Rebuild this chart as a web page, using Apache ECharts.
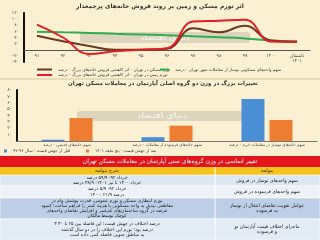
<!DOCTYPE html>
<html><head><meta charset="utf-8">
<script src="https://cdn.jsdelivr.net/npm/echarts@6/dist/echarts.min.js"></script>
<style>html,body{margin:0;padding:0;background:#fcf0d2}#c{width:320px;height:240px}</style>
</head><body><div id="c"></div>
<script>
// ---- data ----
const lineTitle = 'اثر تورم مسکن و زمین بر روند فروش خانه‌های پرجمعدار';
const lineCategories = ['۹۱','۹۲','۹۳','۹۴','۹۵','۹۶','۹۷','۹۸','۹۹','۱۴۰۰','تابستان\n۱۴۰۱'];
const nameNewShare = 'سهم واحدهای مسکونی نوساز از معاملات شهر تهران - درصد';
const nameHousing = 'تورم مسکن در تهران - اثر کاهشی فروش خانه‌های بزرگ - درصد';
const nameLand = 'تورم زمین در تهران - اثر کاهشی فروش خانه‌های بزرگ - درصد';
const newShare = [59,57,55,52,50,47,44,41,37,30,27];
const housingInflation = [46,28,12,0,0,3,70,57,78,30,26];
const landInflation = [82,40,-14,-5,0,5,92,95,98,27,26];

const barTitle = 'تغییرات بزرگ در وزن دو گروه اصلی آپارتمان در معاملات مسکن تهران';
const barCategories = ['سهم خانه‌های قدیمی - درصد','سهم خانه‌های فرسوده از معاملات - درصد','سهم خانه‌های نوساز در معاملات خرید - درصد'];
const nameBefore = 'قبل از جهش قیمت - سال ۹۶-۹۷';
const nameAfter = 'بعد از جهش قیمت - پنج ماهه ۱۴۰۱';
const beforeJump = [2,6,66];
const afterJump = [36,24,33];

const tableTitle = 'تغییر اساسی در وزن گروه‌های سنی آپارتمان در معاملات مسکن تهران';
const tableHeads = ['شرح مولفه','مولفه'];
const tableLeft = [
  ['خرداد ۹۲: ۵۹/۹ درصد','خرداد ۱۴۰۰ تا تیر ۱۴۰۱: ۳۸/۹ درصد'],
  ['خرداد ۹۲: ۵/۹ درصد','۱۴۰۰: ۲۱/۹ درصد'],
  ['تورم انتظاری مسکن و تورم عمومی، قدرت پوشش وام در','مقاطعی تبدیل به واحد مسکونی با هزینه کمتر را فراهم ساخت؛ کمبود','عرضه در گروه ساختمان‌های کم‌عمر و افزایش تقاضای واحدهای','کوچک توسط مالکان'],
  ['۴ درصد اختلاف در جهش قیمت؛ این فاصله بین ۲۵ تا ۳۰','درصد بود؛ تورم این اختلاف را در دو سال گذشته','به مناطق جنوبی فاصله کمی داده است']
];
const tableRight = [
  ['سهم واحدهای نوساز در فروش'],
  ['سهم واحدهای فرسوده در فروش'],
  ['عوامل تقویت تقاضای انتقال از نوساز','به فرسوده'],
  ['ماجرای اختلاف قیمت آپارتمان نو','و فرسوده']
];

// ---- helpers ----
const fa = s => String(s).replace(/\d/g, d => '۰۱۲۳۴۵۶۷۸۹'[d]);
const faNum = v => v < 0 ? '-' + fa(-v) : fa(v);
const FONT = 'DejaVu Sans';

// ---- table graphics ----
const rowY = [175, 186, 198, 219, 240];
const rowFill = ['#dde7f2', '#edf2f8', '#bccfe6', '#e3ebf5'];
const g = [];
g.push({type:'rect', shape:{x:80,y:32,width:170,height:11,r:3}, style:{fill:'rgba(140,140,140,0.28)'}, z:0});
g.push({type:'text', x:165, y:37.5, style:{text:'دنیای اقتصاد', font:'bold 8px '+FONT, fill:'rgba(255,255,255,0.6)', align:'center', verticalAlign:'middle'}, z:0});
g.push({type:'rect', shape:{x:77,y:111,width:170,height:10,r:3}, style:{fill:'rgba(140,140,140,0.28)'}, z:0});
g.push({type:'text', x:162, y:116, style:{text:'دنیای اقتصاد', font:'bold 8px '+FONT, fill:'rgba(255,255,255,0.6)', align:'center', verticalAlign:'middle'}, z:0});
g.push({type:'line', shape:{x1:0,y1:79,x2:320,y2:79}, style:{stroke:'#d8c89e', lineWidth:1}});
g.push({type:'text', x:160, y:6, style:{text:lineTitle, font:'bold 6px '+FONT, fill:'#333', align:'center', verticalAlign:'middle'}});
g.push({type:'text', x:163, y:84, style:{text:barTitle, font:'bold 5.5px '+FONT, fill:'#333', align:'center', verticalAlign:'middle'}});
g.push({type:'rect', shape:{x:0,y:156,width:320,height:11}, style:{fill:'#e3151c'}});
g.push({type:'text', x:170, y:161.5, style:{text:tableTitle, font:'6px '+FONT, fill:'#fff', align:'center', verticalAlign:'middle'}});
g.push({type:'rect', shape:{x:0,y:167,width:320,height:8}, style:{fill:'#f6c21c'}});
g.push({type:'text', x:107, y:171, style:{text:tableHeads[0], font:'5px '+FONT, fill:'#333', align:'center', verticalAlign:'middle'}});
g.push({type:'text', x:267, y:171, style:{text:tableHeads[1], font:'5px '+FONT, fill:'#333', align:'center', verticalAlign:'middle'}});
for (let i = 0; i < 4; i++) {
  const y0 = rowY[i], h = rowY[i+1] - rowY[i];
  g.push({type:'rect', shape:{x:0,y:y0,width:320,height:h}, style:{fill:rowFill[i], stroke:'#ffffff', lineWidth:0.6}});
  const L = tableLeft[i], R = tableRight[i];
  const lh = Math.min(5.5, (h - 1) / L.length);
  L.forEach((t, k) => g.push({type:'text', x:107, y:y0 + h/2 + (k - (L.length-1)/2) * lh, style:{text:t, font:'4.6px '+FONT, fill:'#222', align:'center', verticalAlign:'middle'}}));
  R.forEach((t, k) => g.push({type:'text', x:267, y:y0 + h/2 + (k - (R.length-1)/2) * 5.5, style:{text:t, font:'4.8px '+FONT, fill:'#222', align:'center', verticalAlign:'middle'}}));
}
g.push({type:'line', shape:{x1:215,y1:167,x2:215,y2:240}, style:{stroke:'#ffffff', lineWidth:1}});

const legendText = {fontSize:4.2, color:'#333', fontFamily:FONT, padding:[0,0,0,1]};
const chart = echarts.init(document.getElementById('c'));
chart.setOption({
  backgroundColor:'#fcf0d2',
  animation:false,
  textStyle:{fontFamily:FONT},
  graphic:g,
  legend:[
    {data:[nameHousing], left:37, top:67.5, itemWidth:15, itemHeight:2, icon:'rect', padding:0, textStyle:legendText},
    {data:[nameNewShare], left:160, top:67.5, itemWidth:9, itemHeight:2, icon:'rect', padding:0, textStyle:legendText},
    {data:[nameLand], left:37, top:73, itemWidth:15, itemHeight:2, icon:'rect', padding:0, textStyle:legendText},
    {data:[nameBefore], left:4, top:149, itemWidth:3, itemHeight:3, icon:'rect', padding:0, textStyle:legendText},
    {data:[nameAfter], left:86, top:149, itemWidth:3, itemHeight:3, icon:'rect', padding:0, textStyle:legendText}
  ],
  grid:[
    {left:24, right:10, top:13, height:49},
    {left:17, right:3, top:90, height:51}
  ],
  xAxis:[
    {type:'category', gridIndex:0, position:'bottom', offset:-12, data:lineCategories, axisLine:{onZero:false, lineStyle:{color:'#555', width:1}}, axisTick:{show:false},
     axisLabel:{fontSize:4.5, color:'#444', margin:3, interval:0, lineHeight:5}},
    {type:'category', gridIndex:1, data:barCategories, axisLine:{lineStyle:{color:'#777', width:1}}, axisTick:{show:false},
     axisLabel:{fontSize:4, color:'#444', margin:2, interval:0}}
  ],
  yAxis:[
    {type:'value', gridIndex:0, min:-40, max:120, interval:20, axisLine:{show:true, lineStyle:{color:'#111', width:2}}, axisTick:{show:false}, splitLine:{show:false},
     axisLabel:{fontSize:4.5, color:'#444', margin:5, formatter:faNum}},
    {type:'value', gridIndex:1, min:0, max:80, interval:10, axisLine:{show:true, lineStyle:{color:'#111', width:2}}, axisTick:{show:false}, splitLine:{show:false},
     axisLabel:{fontSize:4.5, color:'#444', margin:5, formatter:faNum}}
  ],
  series:[
    {name:nameNewShare, type:'line', xAxisIndex:0, yAxisIndex:0, data:newShare, smooth:true, showSymbol:false, lineStyle:{color:'#2fae4e', width:2}, itemStyle:{color:'#2fae4e'}, z:3},
    {name:nameHousing, type:'line', xAxisIndex:0, yAxisIndex:0, data:housingInflation, smooth:0.45, showSymbol:false, lineStyle:{color:'#6b3a1f', width:2}, itemStyle:{color:'#6b3a1f'}, z:3},
    {name:nameLand, type:'line', xAxisIndex:0, yAxisIndex:0, data:landInflation, smooth:0.45, showSymbol:false, lineStyle:{color:'#e31e26', width:2}, itemStyle:{color:'#e31e26'}, z:4},
    {name:nameBefore, type:'bar', xAxisIndex:1, yAxisIndex:1, data:beforeJump, barWidth:23, barGap:'22%', itemStyle:{color:'#4a8ed6'}, z:3},
    {name:nameAfter, type:'bar', xAxisIndex:1, yAxisIndex:1, data:afterJump, barWidth:23, itemStyle:{color:'#ef7d31'}, z:3}
  ]
});
</script></body></html>
